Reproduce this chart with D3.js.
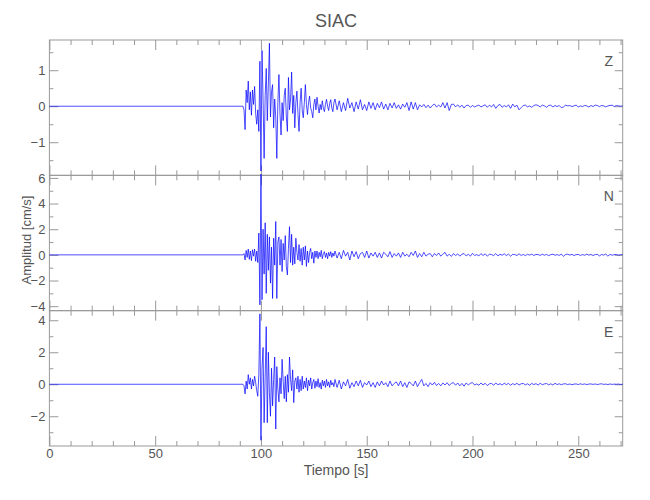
<!DOCTYPE html>
<html><head><meta charset="utf-8">
<script src="https://cdn.jsdelivr.net/npm/d3@7"></script>
<style>
body{margin:0;background:#fff;}
svg text{font-family:"Liberation Sans Narrow","Liberation Sans",sans-serif;fill:#555;}
</style></head>
<body><svg id="c" width="650" height="500"></svg>
<script>
// ---------------- data ----------------
const title = "SIAC";
const xLabel = "Tiempo [s]";
const yLabel = "Amplitud [cm/s]";
const components = ["Z", "N", "E"];
const timeRange = [0, 271];
const xMajorTicks = [0, 50, 100, 150, 200, 250];
const xMinorTicks = [10,20,30,40,60,70,80,90,110,120,130,140,160,170,180,190,210,220,230,240,260,270];

// quiet record before the event, then the burst (0.5 s samples) and coda (1 s samples)
const quietTimes = [0, 91];
const burstStart = 91, burstStep = 0.5;
const codaStart = 135, codaStep = 1;

const zRange = [-1.92, 1.84];
const zMajor = [-1, 0, 1];
const zMinor = [-1.5, -0.5, 0.5, 1.5];
const zBurst = [0,0,-0.1,-0.65,0.45,0.1,0.7,-0.1,0.4,-0.25,0.45,0.05,0.55,-0.2,-0.5,-0.1,-0.7,1.25,-1.8,1.55,
 0.2,-1.45,0.3,1.05,-0.4,0.6,1.75,-0.3,0.4,0.6,-0.6,0.2,-0.3,-1.45,0.1,0.88,-0.2,-0.8,0.1,-0.4,
 0.3,0.5,-0.3,-0.7,0.8,-0.1,0.2,0.95,-0.2,0.3,-0.6,0.1,0.42,-0.2,-0.7,0.1,0.5,-0.1,-0.32,0.1,
 0.6,0.05,-0.23,0.1,0.28,-0.05,-0.15,-0.32,0.05,0.2,-0.1,0.25,0,-0.19,0.05,-0.1,0.15,-0.05,-0.15,0.05,
 0.19,0,-0.12,0.08,0.18,-0.05,-0.15,0.1];
const zCoda = [0.2,-0.1,0.15,-0.15,0.1,-0.12,0.22,-0.05,0.1,-0.15,0.12,-0.08,0.18,-0.1,0.05,-0.12,0.12,-0.06,0.1,-0.1,
 0.08,-0.04,0.12,-0.08,0.06,-0.1,0.08,-0.05,0.1,-0.06,0.04,-0.08,0.06,-0.03,0.1,-0.12,0.12,-0.08,0.1,-0.1,
 0.04,-0.02,0.05,-0.04,0.03,-0.05,0.02,0.06,-0.02,0.03,-0.02,0.1,-0.05,0.1,-0.12,0.05,0.06,-0.02,0.04,-0.03,
 0.03,-0.05,0.02,0.03,-0.03,0.02,-0.02,0.01,0.03,-0.02,0.01,0.04,-0.03,0.03,-0.02,0.05,-0.06,0.02,0.05,-0.03,
 0.02,-0.02,0.04,-0.06,0.06,-0.02,0.03,-0.1,-0.04,0.02,0.03,-0.02,0.01,-0.03,0.02,0.04,0.02,-0.02,0.03,0.01,
 -0.03,0.02,0.03,-0.02,0.02,-0.01,0.02,-0.04,-0.02,0.03,0.01,0.02,-0.01,0.01,0.03,-0.02,0.01,-0.01,0.02,0.01,
 -0.02,0.02,-0.01,0.03,0.02,-0.01,0.02,0.01,-0.02,0.01,0.02,0.03,-0.01,0.02,0.01,0,0.01];

const nRange = [-4.35, 6.2];
const nMajor = [-4, -2, 0, 2, 4, 6];
const nMinor = [-3, -1, 1, 3, 5];
const nBurst = [0,0,0.1,-0.4,0.35,-0.2,0.45,-0.35,0.3,-0.45,0.4,-0.1,0.45,-0.5,0.3,-0.6,1.7,-3.9,6.3,-3.5,
 2.0,-1.5,2.5,-3.0,1.6,-1.2,1.4,-2.2,0.6,-3.4,1.3,-0.8,2.6,-3.4,1.0,1.4,-0.8,1.2,-1.3,0.9,
 -0.4,1.5,-0.9,-1.56,0.5,2.2,-0.6,1.6,-0.8,0.6,-0.7,1.3,0.2,-0.4,0.8,-0.5,0.5,-0.8,0.6,-0.4,
 0.7,-0.9,0.3,-0.6,0.2,0.5,-0.3,0.2,-0.65,0.3,-0.2,0.3,-0.3,0.2,-0.15,0.35,-0.3,0.1,0.25,-0.2,
 0.15,-0.3,0.2,-0.1,0.25,-0.2,0.15,-0.1];
const nCoda = [0.3,-0.25,0.2,-0.3,0.35,-0.1,0.2,-0.4,0.3,-0.15,0.25,-0.3,0.1,0.2,-0.2,0.3,-0.25,0.15,-0.1,0.2,
 -0.2,0.15,-0.25,0.2,0.05,-0.15,0.25,-0.2,0.1,-0.1,0.15,-0.2,0.2,-0.1,0.05,-0.15,0.2,-0.05,0.3,-0.2,
 0.1,-0.15,0.2,-0.1,0.05,0.1,-0.15,0.1,-0.05,0.15,-0.1,0.05,0.2,-0.1,0.05,-0.12,0.1,-0.05,0.08,-0.1,
 0.05,0.1,-0.08,0.05,-0.1,0.12,-0.05,0.02,-0.08,0.1,-0.05,0.08,-0.1,0.05,0.02,-0.06,0.1,-0.08,0.05,-0.03,
 0.08,-0.05,0.06,-0.1,0.04,0.02,-0.05,0.08,-0.04,0.03,-0.06,0.05,-0.02,0.06,-0.05,0.03,0.02,-0.04,0.05,-0.03,
 0.04,-0.06,0.02,0.05,-0.03,0.02,-0.04,0.06,-0.12,0.03,0.05,-0.02,0.04,-0.05,0.02,0.03,-0.04,0.02,-0.03,0.05,
 -0.02,0.03,-0.05,0.02,0.04,-0.08,0.03,-0.02,0.06,-0.1,0.04,-0.03,0.02,0.03,-0.02,0.01,0.02];

const eRange = [-3.86, 4.6];
const eMajor = [-2, 0, 2, 4];
const eMinor = [-3, -1, 1, 3];
const eBurst = [0,0,-0.1,-0.6,0.2,-0.3,0.6,0,0.4,-0.3,0.3,-0.1,0.5,0.1,-0.4,-0.75,0.6,4.4,-3.5,1.0,
 2.3,-2.4,0.5,3.6,-2.4,2.0,-0.5,-2.0,1.0,-1.35,0.3,1.7,-2.8,1.1,-0.3,-1.1,0.4,-0.6,1.56,0.2,
 -0.9,0.5,-1.1,0.6,-0.5,1.7,0.3,-0.4,0.9,-1.15,0.2,0.4,-0.3,0.5,-0.5,0.3,-0.4,0.5,-0.3,0.2,
 -0.2,0.4,-0.4,0.25,-0.1,0.4,-0.3,0.1,0.3,-0.25,0.2,-0.15,0.35,-0.2,0.1,-0.3,0.25,-0.1,0.2,-0.2,
 0.3,-0.1,0.15,-0.2,0.25,-0.05,0.1,-0.15];
const eCoda = [0.3,-0.2,0.25,-0.3,0.15,-0.1,0.3,-0.25,0.1,-0.15,0.2,-0.1,0.25,-0.2,0.1,-0.05,0.2,-0.15,0.1,-0.2,
 0.15,-0.1,0.2,-0.05,0.1,-0.15,0.2,-0.1,0.05,0.15,-0.1,0.2,-0.15,0.1,-0.2,0.15,0.05,-0.1,0.2,-0.15,
 0.1,0.3,-0.1,0.05,-0.15,0.1,-0.05,0.12,-0.08,0.05,-0.1,0.08,-0.05,0.1,-0.08,0.06,0.1,-0.06,0.08,-0.1,
 0.05,-0.12,0.08,-0.04,0.06,0.1,-0.05,0.02,-0.06,0.08,-0.04,0.06,-0.08,0.03,0.05,-0.06,0.08,-0.03,0.04,-0.05,
 0.06,-0.02,0.05,-0.06,0.04,-0.03,0.06,-0.05,0.03,0.05,-0.04,0.03,-0.06,0.05,-0.02,0.04,-0.05,0.06,-0.03,0.02,
 0.05,-0.04,0.03,-0.05,0.06,-0.02,0.03,-0.03,0.02,0.03,-0.02,0.02,-0.03,0.01,0.02,-0.02,0.03,-0.01,0.02,-0.02,
 0.01,0.02,-0.01,0.02,-0.02,0.01,0.03,-0.01,0.01,-0.02,0.02,-0.01,0.01,0,0.01,-0.01,0];

// ---------------- drawing ----------------
const W = 650, H = 500;
const margin = {left: 49.4, right: 27.3, top: 40, bottom: 54};
const plotW = W - margin.left - margin.right;
const panelH = (H - margin.top - margin.bottom) / 3;
const frameColor = "#999";
const traceColor = "#0000ff";

const svg = d3.select("#c");
const x = d3.scaleLinear().domain(timeRange).range([margin.left, margin.left + plotW]);

const panels = [
  {label: components[0], burst: zBurst, coda: zCoda, range: zRange, major: zMajor, minor: zMinor},
  {label: components[1], burst: nBurst, coda: nCoda, range: nRange, major: nMajor, minor: nMinor},
  {label: components[2], burst: eBurst, coda: eCoda, range: eRange, major: eMajor, minor: eMinor}
];

function styleAxis(g, withText) {
  g.select(".domain").remove();
  g.selectAll(".tick line").attr("stroke", frameColor).attr("stroke-width", 1);
  g.selectAll("text").attr("font-size", 13).attr("fill", "#555")
    .attr("font-family", '"Liberation Sans Narrow","Liberation Sans",sans-serif');
  if (!withText) g.selectAll("text").remove();
}

panels.forEach((p, i) => {
  const top = margin.top + i * panelH;
  const bottom = top + panelH;
  const y = d3.scaleLinear().domain(p.range).range([bottom, top]);

  // frame
  svg.append("rect").attr("x", margin.left).attr("y", top)
    .attr("width", plotW).attr("height", panelH)
    .attr("fill", "none").attr("stroke", frameColor).attr("stroke-width", 1);

  // x ticks top/bottom
  const isLast = i === panels.length - 1;
  svg.append("g").attr("transform", `translate(0,${bottom})`)
    .call(d3.axisBottom(x).tickValues(xMajorTicks).tickSize(-10).tickPadding(3).tickFormat(d3.format("d")))
    .call(g => styleAxis(g, isLast));
  svg.append("g").attr("transform", `translate(0,${bottom})`)
    .call(d3.axisBottom(x).tickValues(xMinorTicks).tickSize(-5).tickFormat(""))
    .call(g => styleAxis(g, false));
  svg.append("g").attr("transform", `translate(0,${top})`)
    .call(d3.axisTop(x).tickValues(xMajorTicks).tickSize(-10).tickFormat(""))
    .call(g => styleAxis(g, false));
  svg.append("g").attr("transform", `translate(0,${top})`)
    .call(d3.axisTop(x).tickValues(xMinorTicks).tickSize(-5).tickFormat(""))
    .call(g => styleAxis(g, false));

  // y ticks left/right
  svg.append("g").attr("transform", `translate(${margin.left},0)`)
    .call(d3.axisLeft(y).tickValues(p.major).tickSize(-9).tickPadding(4).tickFormat(d3.format("d")))
    .call(g => styleAxis(g, true));
  svg.append("g").attr("transform", `translate(${margin.left},0)`)
    .call(d3.axisLeft(y).tickValues(p.minor).tickSize(-4).tickFormat(""))
    .call(g => styleAxis(g, false));
  svg.append("g").attr("transform", `translate(${margin.left + plotW},0)`)
    .call(d3.axisRight(y).tickValues(p.major).tickSize(-8).tickFormat(""))
    .call(g => styleAxis(g, false));
  svg.append("g").attr("transform", `translate(${margin.left + plotW},0)`)
    .call(d3.axisRight(y).tickValues(p.minor).tickSize(-4).tickFormat(""))
    .call(g => styleAxis(g, false));

  // trace
  const pts = quietTimes.map(t => [t, 0])
    .concat(p.burst.map((v, k) => [burstStart + k * burstStep, v]))
    .concat(p.coda.map((v, k) => [codaStart + k * codaStep, v]));
  svg.append("path").datum(pts)
    .attr("fill", "none").attr("stroke", traceColor).attr("stroke-width", 0.7)
    .attr("stroke-linejoin", "round")
    .attr("d", d3.line().x(d => x(d[0])).y(d => y(d[1])));

  // component label
  svg.append("text").attr("x", margin.left + plotW - 14).attr("y", top + 26)
    .attr("text-anchor", "middle").attr("font-size", 14).text(p.label);
});

// titles
svg.append("text").attr("x", 336).attr("y", 27).attr("text-anchor", "middle")
  .attr("font-size", 18).text(title);
svg.append("text").attr("x", margin.left + plotW / 2).attr("y", 475).attr("text-anchor", "middle")
  .attr("font-size", 14).text(xLabel);
svg.append("text").attr("transform", `translate(31,${margin.top + 1.5 * panelH - 3}) rotate(-90)`)
  .attr("text-anchor", "middle").attr("font-size", 13).text(yLabel);
</script></body></html>
